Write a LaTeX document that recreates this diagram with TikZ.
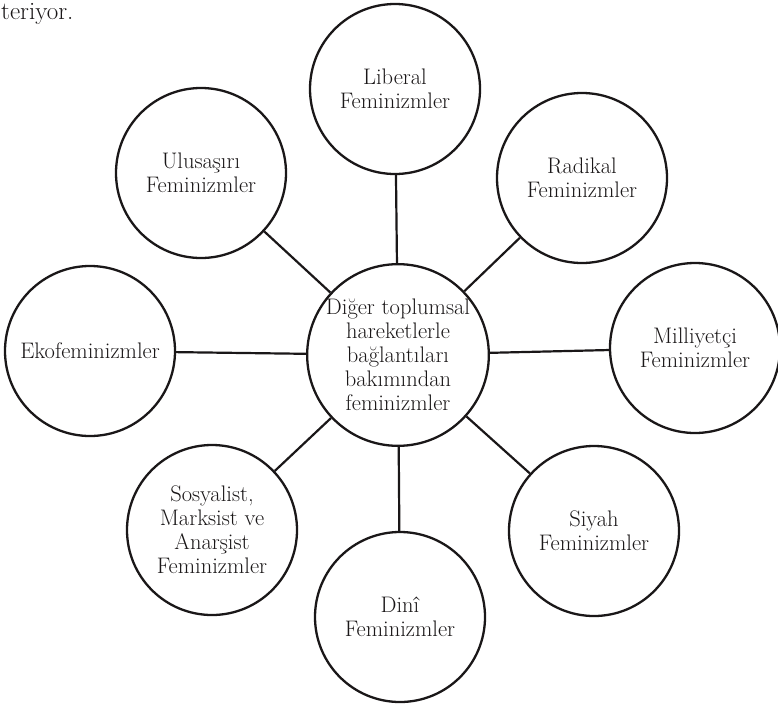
\documentclass[tikz,border=0pt]{standalone}
\usepackage{fontspec}
\definecolor{ink}{HTML}{1A1718}
\begin{document}
\begin{tikzpicture}[x=1pt,y=-1pt,
  circ/.style={circle,draw=ink,line width=2.3pt,minimum size=170pt,inner sep=0pt,
    align=center,text=ink,font=\fontsize{22.5}{24}\selectfont},
  hub/.style={circ,minimum size=166pt},
  link/.style={draw=ink,line width=2.2pt}]
\useasboundingbox (0,0) rectangle (778,704);
\node[anchor=base west,text=ink,font=\fontsize{25}{28}\selectfont,inner sep=0pt] (tx) at (1,19) {teriyor.};
\node[hub] (c) at (398,355) {Diğer toplumsal\\hareketlerle\\bağlantıları\\bakımından\\feminizmler};
\node[circ] (lib) at (395,89) {Liberal\\Feminizmler};
\node[circ] (rad) at (582,178) {Radikal\\Feminizmler};
\node[circ] (mil) at (695,348) {Milliyetçi\\Feminizmler};
\node[circ] (siy) at (594,531) {Siyah\\Feminizmler};
\node[circ] (din) at (400,617) {Dinî\\Feminizmler};
\node[circ] (sos) at (212,530) {Sosyalist,\\Marksist ve\\Anarşist\\Feminizmler};
\node[circ] (eko) at (90,351) {Ekofeminizmler};
\node[circ] (ulu) at (201,173) {Ulusaşırı\\Feminizmler};
\foreach \n in {lib,rad,mil,siy,din,sos,eko,ulu}{\draw[link] (c) -- (\n);}
\end{tikzpicture}
\end{document}
